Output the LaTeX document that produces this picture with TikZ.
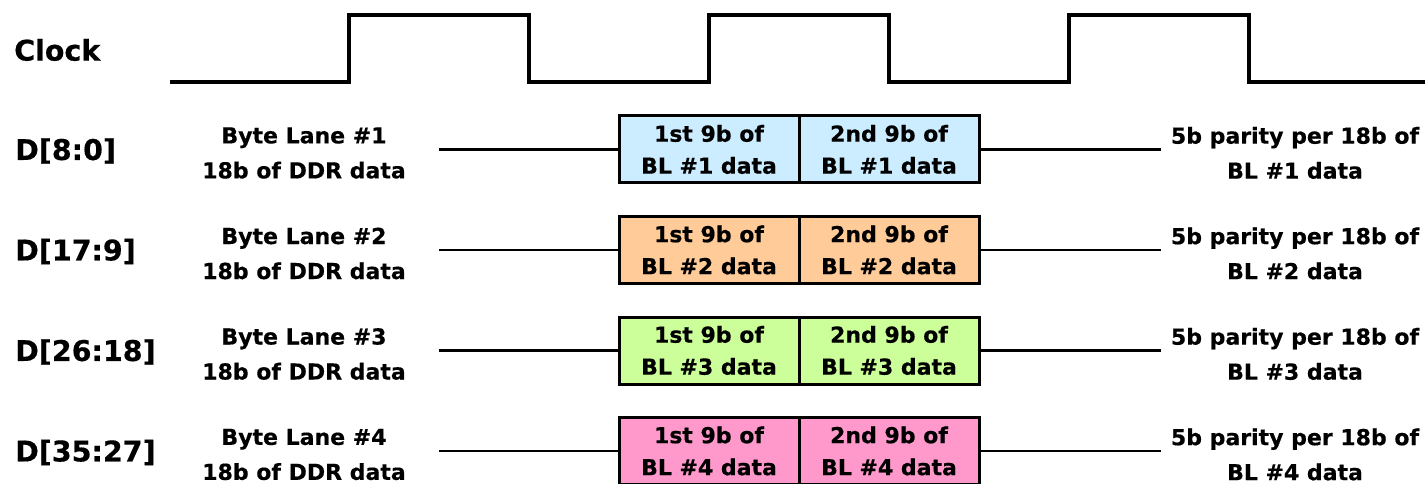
\documentclass[tikz,border=0pt]{standalone}
\usepackage{fontspec}
\setmainfont{DejaVu Sans}[BoldFeatures={FakeBold=0.4}]
\definecolor{laneA}{HTML}{CCECFF}
\definecolor{laneB}{HTML}{FFCC99}
\definecolor{laneC}{HTML}{CCFF99}
\definecolor{laneD}{HTML}{FF99CC}
\tikzset{
  sig/.style={font=\bfseries\fontsize{28.5}{30}\selectfont, anchor=west, inner sep=0pt},
  lanetxt/.style={font=\bfseries\fontsize{22}{35}\selectfont, align=center, inner sep=0pt},
  cell/.style={draw, line width=3pt, minimum width=180pt, minimum height=67pt,
    inner sep=0pt, align=center, font=\bfseries\fontsize{22}{32}\selectfont},
  wire/.style={line width=2.4pt},
  clk/.style={line width=3.2pt, line join=miter},
}
\begin{document}
\begin{tikzpicture}[x=1pt, y=-1pt]
  \useasboundingbox (0,0) rectangle (1425,484);

  % clock waveform
  \node[sig] (clklbl) at (14,50) {Clock};
  \draw[clk] (170,82) -- (349,82) -- (349,15) -- (529,15) -- (529,82)
    -- (709,82) -- (709,15) -- (889,15) -- (889,82)
    -- (1069,82) -- (1069,15) -- (1249,15) -- (1249,82) -- (1425,82);

  % one row per byte lane
  \foreach \n/\y/\lbl/\col in {1/149.5/{D[8:0]}/laneA, 2/250/{D[17:9]}/laneB,
                               3/350.5/{D[26:18]}/laneC, 4/451/{D[35:27]}/laneD} {
    \node[sig] (sig\n) at (15,\y+1.5) {\lbl};
    \node[lanetxt] (src\n) at (304,\y+3.5) {Byte Lane \#\n\\18b of DDR data};
    \node[cell, fill=\col] (first\n) at (709,\y) {1st 9b of\\BL \#\n\ data};
    \node[cell, fill=\col] (second\n) at (889,\y) {2nd 9b of\\BL \#\n\ data};
    \node[lanetxt] (par\n) at (1295,\y+3.5) {5b parity per 18b of\\BL \#\n\ data};
    \coordinate (in\n) at (439,\y);
    \coordinate (out\n) at (1161,\y);
    \draw[wire] (in\n) -- (first\n.west);
    \draw[wire] (second\n.east) -- (out\n);
  }
\end{tikzpicture}
\end{document}
